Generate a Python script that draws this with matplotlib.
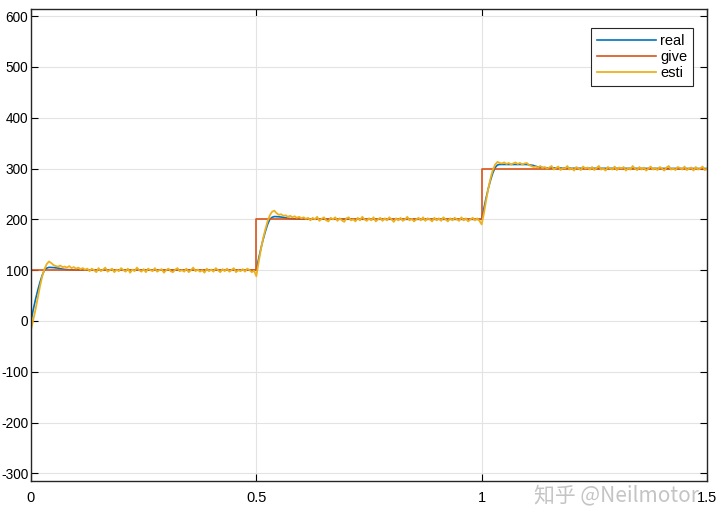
import numpy as np
import matplotlib
matplotlib.use('Agg')
import matplotlib.pyplot as plt

plt.rcParams['font.family'] = ['Liberation Sans', 'DejaVu Sans']
plt.rcParams['axes.unicode_minus'] = False

# give: reference steps
t_give = [0, 0.5, 0.5, 1.0, 1.0, 1.5]
y_give = [100, 100, 200, 200, 300, 300]

# real: response
t_real = [0, 0.005, 0.01, 0.015, 0.02, 0.025, 0.03, 0.035, 0.04, 0.05, 0.06, 0.07, 0.08, 0.1, 0.5,
          0.505, 0.51, 0.515, 0.52, 0.525, 0.53, 0.535, 0.54, 0.55, 0.56, 0.57, 0.58, 0.6, 1.0,
          1.005, 1.01, 1.015, 1.02, 1.025, 1.03, 1.035, 1.04, 1.06, 1.08, 1.1, 1.115, 1.125, 1.14, 1.2, 1.5]
y_real = [0, 22, 42, 60, 76, 90, 100, 104, 105.5, 105, 104, 102, 101, 100.3, 100,
          122, 142, 160, 176, 190, 200, 204, 205.5, 205, 204, 202, 201, 200.3, 200,
          222, 243, 262, 278, 292, 302, 307, 308, 308, 308, 308, 306, 303, 301.5, 300.5, 300]

# esti: sampled every 5 ms
esti_seg1 = [-18, 2, 22, 45, 68, 88, 102, 112, 117, 114,
             110, 108, 107, 109, 106, 107, 105, 108, 104, 106,
             103, 105, 102, 104, 101, 103, 98, 103, 100, 96,
             104, 98, 101, 105, 97, 100, 103, 96, 101, 98,
             104, 100, 97, 103, 95, 101, 98, 105, 100, 97,
             102, 96, 103, 100, 98, 104, 97, 100, 102, 95,
             100, 103, 98, 96, 101, 104, 98, 100, 97, 103,
             96, 100, 105, 98, 101, 97, 100, 95, 103, 98,
             101, 97, 104, 100, 96, 102, 98, 103, 97, 100,
             104, 96, 100, 98, 102, 97, 103, 100, 96, 99]
esti_seg2 = [88, 115, 140, 162, 180, 196, 208, 215, 217, 212,
             209, 210, 207, 208, 205, 207, 204, 206, 203, 205,
             202, 204, 201, 203, 198, 203, 200, 205, 197, 201,
             204, 198, 196, 203, 200, 204, 197, 202, 198, 195,
             202, 204, 198, 200, 196, 203, 198, 205, 200, 197,
             202, 198, 204, 196, 200, 203, 197, 202, 198, 204,
             200, 195, 202, 198, 203, 197, 200, 205, 198, 201,
             196, 200, 203, 198, 204, 197, 202, 200, 196, 203,
             198, 202, 197, 204, 200, 196, 202, 198, 203, 200,
             197, 204, 198, 202, 196, 200, 203, 198, 202, 197]
esti_seg3 = [190, 212, 238, 262, 282, 298, 308, 313, 311, 310,
             312, 309, 311, 308, 310, 312, 309, 311, 308, 310,
             311, 307, 305, 303, 304, 302, 305, 301, 303, 300,
             302, 305, 298, 301, 304, 297, 301, 300, 305, 298,
             301, 296, 303, 300, 297, 304, 300, 302, 298, 303,
             297, 301, 305, 298, 300, 296, 303, 300, 298, 304,
             297, 302, 300, 303, 296, 301, 298, 305, 300, 297,
             303, 298, 302, 296, 300, 304, 298, 301, 297, 303,
             300, 296, 302, 305, 298, 300, 297, 303, 301, 298,
             304, 297, 300, 302, 296, 303, 298, 300, 304, 297,
             300]
y_esti = esti_seg1 + esti_seg2 + esti_seg3
t_esti = np.linspace(0, 1.5, len(y_esti))

xticks = [0, 0.5, 1, 1.5]
xtick_labels = ['0', '0.5', '1', '1.5']
yticks = list(range(-300, 601, 100))


def paint():
    fig = plt.figure(figsize=(7.2, 5.3), dpi=100)
    ax = fig.add_axes([0.043, 0.0925, 0.939, 0.8905])

    ax.plot(t_real, y_real, color='#0072BD', lw=1.2, label='real')
    ax.plot(t_give, y_give, color='#D95319', lw=1.2, label='give')
    ax.plot(t_esti, y_esti, color='#EDB120', lw=1.3, label='esti')

    ax.set_xlim(0, 1.5)
    ax.set_ylim(-315, 614)
    ax.set_xticks(xticks)
    ax.set_xticklabels(xtick_labels)
    ax.set_yticks(yticks)
    ax.tick_params(direction='in', length=5, width=0.8, labelsize=10.5,
                   top=True, right=True)
    ax.tick_params(axis='y', labelsize=9.8, pad=2)
    ax.tick_params(axis='x', pad=7)
    ax.grid(True, color='#e3e3e3', lw=0.8)
    ax.set_axisbelow(True)
    for s in ax.spines.values():
        s.set_linewidth(1.0)
        s.set_color('#262626')

    leg = ax.legend(loc='upper right', bbox_to_anchor=(0.979, 0.96), fontsize=10.5,
                    handlelength=4.0, handletextpad=0.3, borderpad=0.4,
                    labelspacing=0.15, borderaxespad=0, fancybox=False, framealpha=1)
    leg.get_frame().set_edgecolor('#262626')
    leg.get_frame().set_linewidth(0.8)

    fig.text(0.742, 0.066, '知乎 @Neilmotor', fontsize=15, color='#c4c4c4',
             family=['Noto Sans CJK SC', 'DejaVu Sans'], va='center')

    fig.savefig('out.png', dpi=100)


paint()
